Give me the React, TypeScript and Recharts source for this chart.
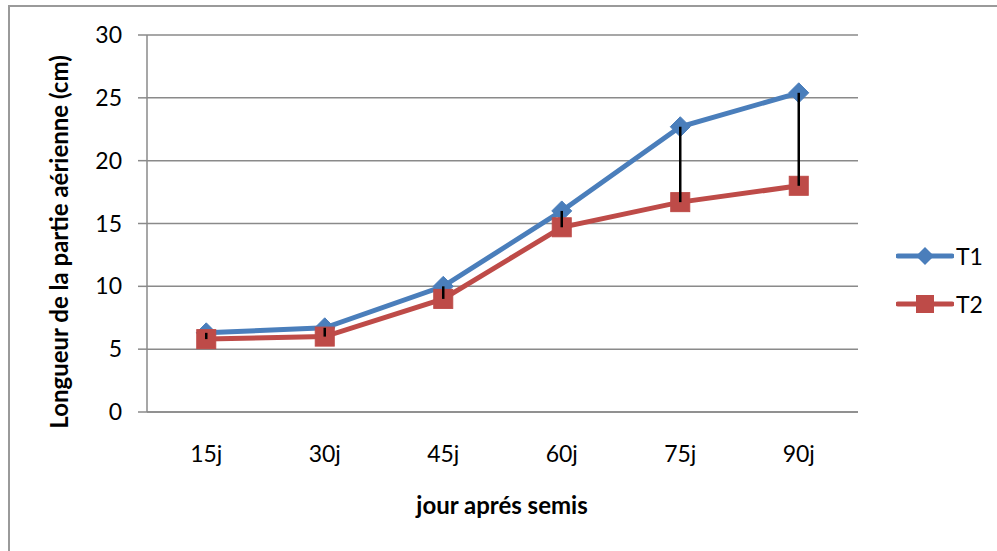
import React from "react";
import {
  ComposedChart,
  Line,
  Bar,
  XAxis,
  YAxis,
  CartesianGrid,
} from "recharts";

// jours après semis
const jours = ["15j", "30j", "45j", "60j", "75j", "90j"];
// longueur de la partie aérienne (cm)
const t1 = [6.3, 6.7, 10.0, 16.0, 22.7, 25.4];
const t2 = [5.8, 6.0, 9.0, 14.7, 16.7, 18.0];
const yTicks = [0, 5, 10, 15, 20, 25, 30];

const BLUE = "#4A7EBB";
const RED = "#BE4B48";
const GRID = "#8a8a8a";
const FRAME = "#9a9a9a";
const FONT = "Lato, 'Noto Sans', sans-serif";

const data = jours.map((j, i) => ({
  jour: j,
  T1: t1[i],
  T2: t2[i],
  // ligne haut-bas entre les deux séries
  ecart: [t2[i], t1[i]],
}));

const Diamond = (props: any) => {
  const { cx, cy } = props;
  if (cx == null || cy == null) return null;
  const r = 10;
  return (
    <path
      d={`M${cx},${cy - r} L${cx + r},${cy} L${cx},${cy + r} L${cx - r},${cy} Z`}
      fill={BLUE}
      stroke={BLUE}
      strokeWidth={1}
    />
  );
};

const Square = (props: any) => {
  const { cx, cy } = props;
  if (cx == null || cy == null) return null;
  const s = 9.5;
  return (
    <rect x={cx - s} y={cy - s} width={2 * s} height={2 * s} fill={RED} stroke={RED} strokeWidth={1} />
  );
};

const LegendBox = () => (
  <div style={{ fontFamily: FONT, fontSize: 23, color: "#000", lineHeight: "24px" }}>
    {[
      { name: "T1", color: BLUE, shape: "diamond" },
      { name: "T2", color: RED, shape: "square" },
    ].map((it, i) => (
      <div key={it.name} style={{ display: "flex", alignItems: "center", height: 24, marginBottom: i === 0 ? 24 : 0 }}>
        <svg width={58} height={24}>
          <line x1={2} y1={12} x2={56} y2={12} stroke={it.color} strokeWidth={5} strokeLinecap="round" />
          {it.shape === "diamond" ? (
            <path d="M29,3 L38,12 L29,21 L20,12 Z" fill={it.color} />
          ) : (
            <rect x={20} y={3} width={18} height={18} fill={it.color} />
          )}
        </svg>
        <span style={{ marginLeft: 2 }}>{it.name}</span>
      </div>
    ))}
  </div>
);

export default function App() {
  return (
    <div style={{ position: "absolute", left: 0, top: 0, width: 997, height: 551, background: "#fff", overflow: "hidden" }}>
      {/* cadre du graphique */}
      <div style={{ position: "absolute", left: 8, top: 5, width: 989, height: 2, background: FRAME }} />
      <div style={{ position: "absolute", left: 8, top: 5, width: 2, height: 546, background: FRAME }} />
      <div style={{ position: "absolute", left: 0, top: 0 }}>
        <ComposedChart
          width={997}
          height={551}
          data={data}
          margin={{ top: 35, right: 139, bottom: 109, left: 87 }}
          style={{ fontFamily: FONT }}
        >
          <CartesianGrid vertical={false} stroke={GRID} strokeWidth={1.5} />
          <XAxis
            dataKey="jour"
            axisLine={{ stroke: GRID, strokeWidth: 1.5 }}
            tickLine={false}
            tickSize={0}
            tickMargin={34}
            tick={{ fill: "#000", fontSize: 23, fontFamily: FONT }}
            label={{
              value: "jour aprés semis",
              content: () => (
                <text x={502} y={514} textAnchor="middle" fontFamily={FONT} fontSize={24} fontWeight="bold" fill="#000">
                  jour aprés semis
                </text>
              ),
            }}
          />
          <YAxis
            width={60}
            domain={[0, 30]}
            ticks={yTicks}
            interval={0}
            axisLine={{ stroke: GRID, strokeWidth: 1.5 }}
            tickLine={{ stroke: GRID, strokeWidth: 1.5 }}
            tickSize={9}
            tickMargin={16}
            tick={{ fill: "#000", fontSize: 23, fontFamily: FONT }}
            label={{
              value: "Longueur de la partie aérienne (cm)",
              content: () => (
                <text
                  x={0}
                  y={0}
                  transform="translate(68,242) rotate(-90)"
                  textAnchor="middle"
                  fontFamily={FONT}
                  fontSize={24}
                  fontWeight="bold"
                  fill="#000"
                >
                  Longueur de la partie aérienne (cm)
                </text>
              ),
            }}
          />
          <Line
            dataKey="T1"
            stroke={BLUE}
            strokeWidth={5}
            dot={<Diamond />}
            activeDot={false}
            isAnimationActive={false}
          />
          <Line
            dataKey="T2"
            stroke={RED}
            strokeWidth={5}
            dot={<Square />}
            activeDot={false}
            isAnimationActive={false}
          />
          <Bar
            dataKey="ecart"
            barSize={2.5}
            fill="#000"
            legendType="none"
            isAnimationActive={false}
            {...({ zIndex: 900 } as any)}
          />
        </ComposedChart>
      </div>
      <div style={{ position: "absolute", left: 896, top: 244 }}>
        <LegendBox />
      </div>
    </div>
  );
}
